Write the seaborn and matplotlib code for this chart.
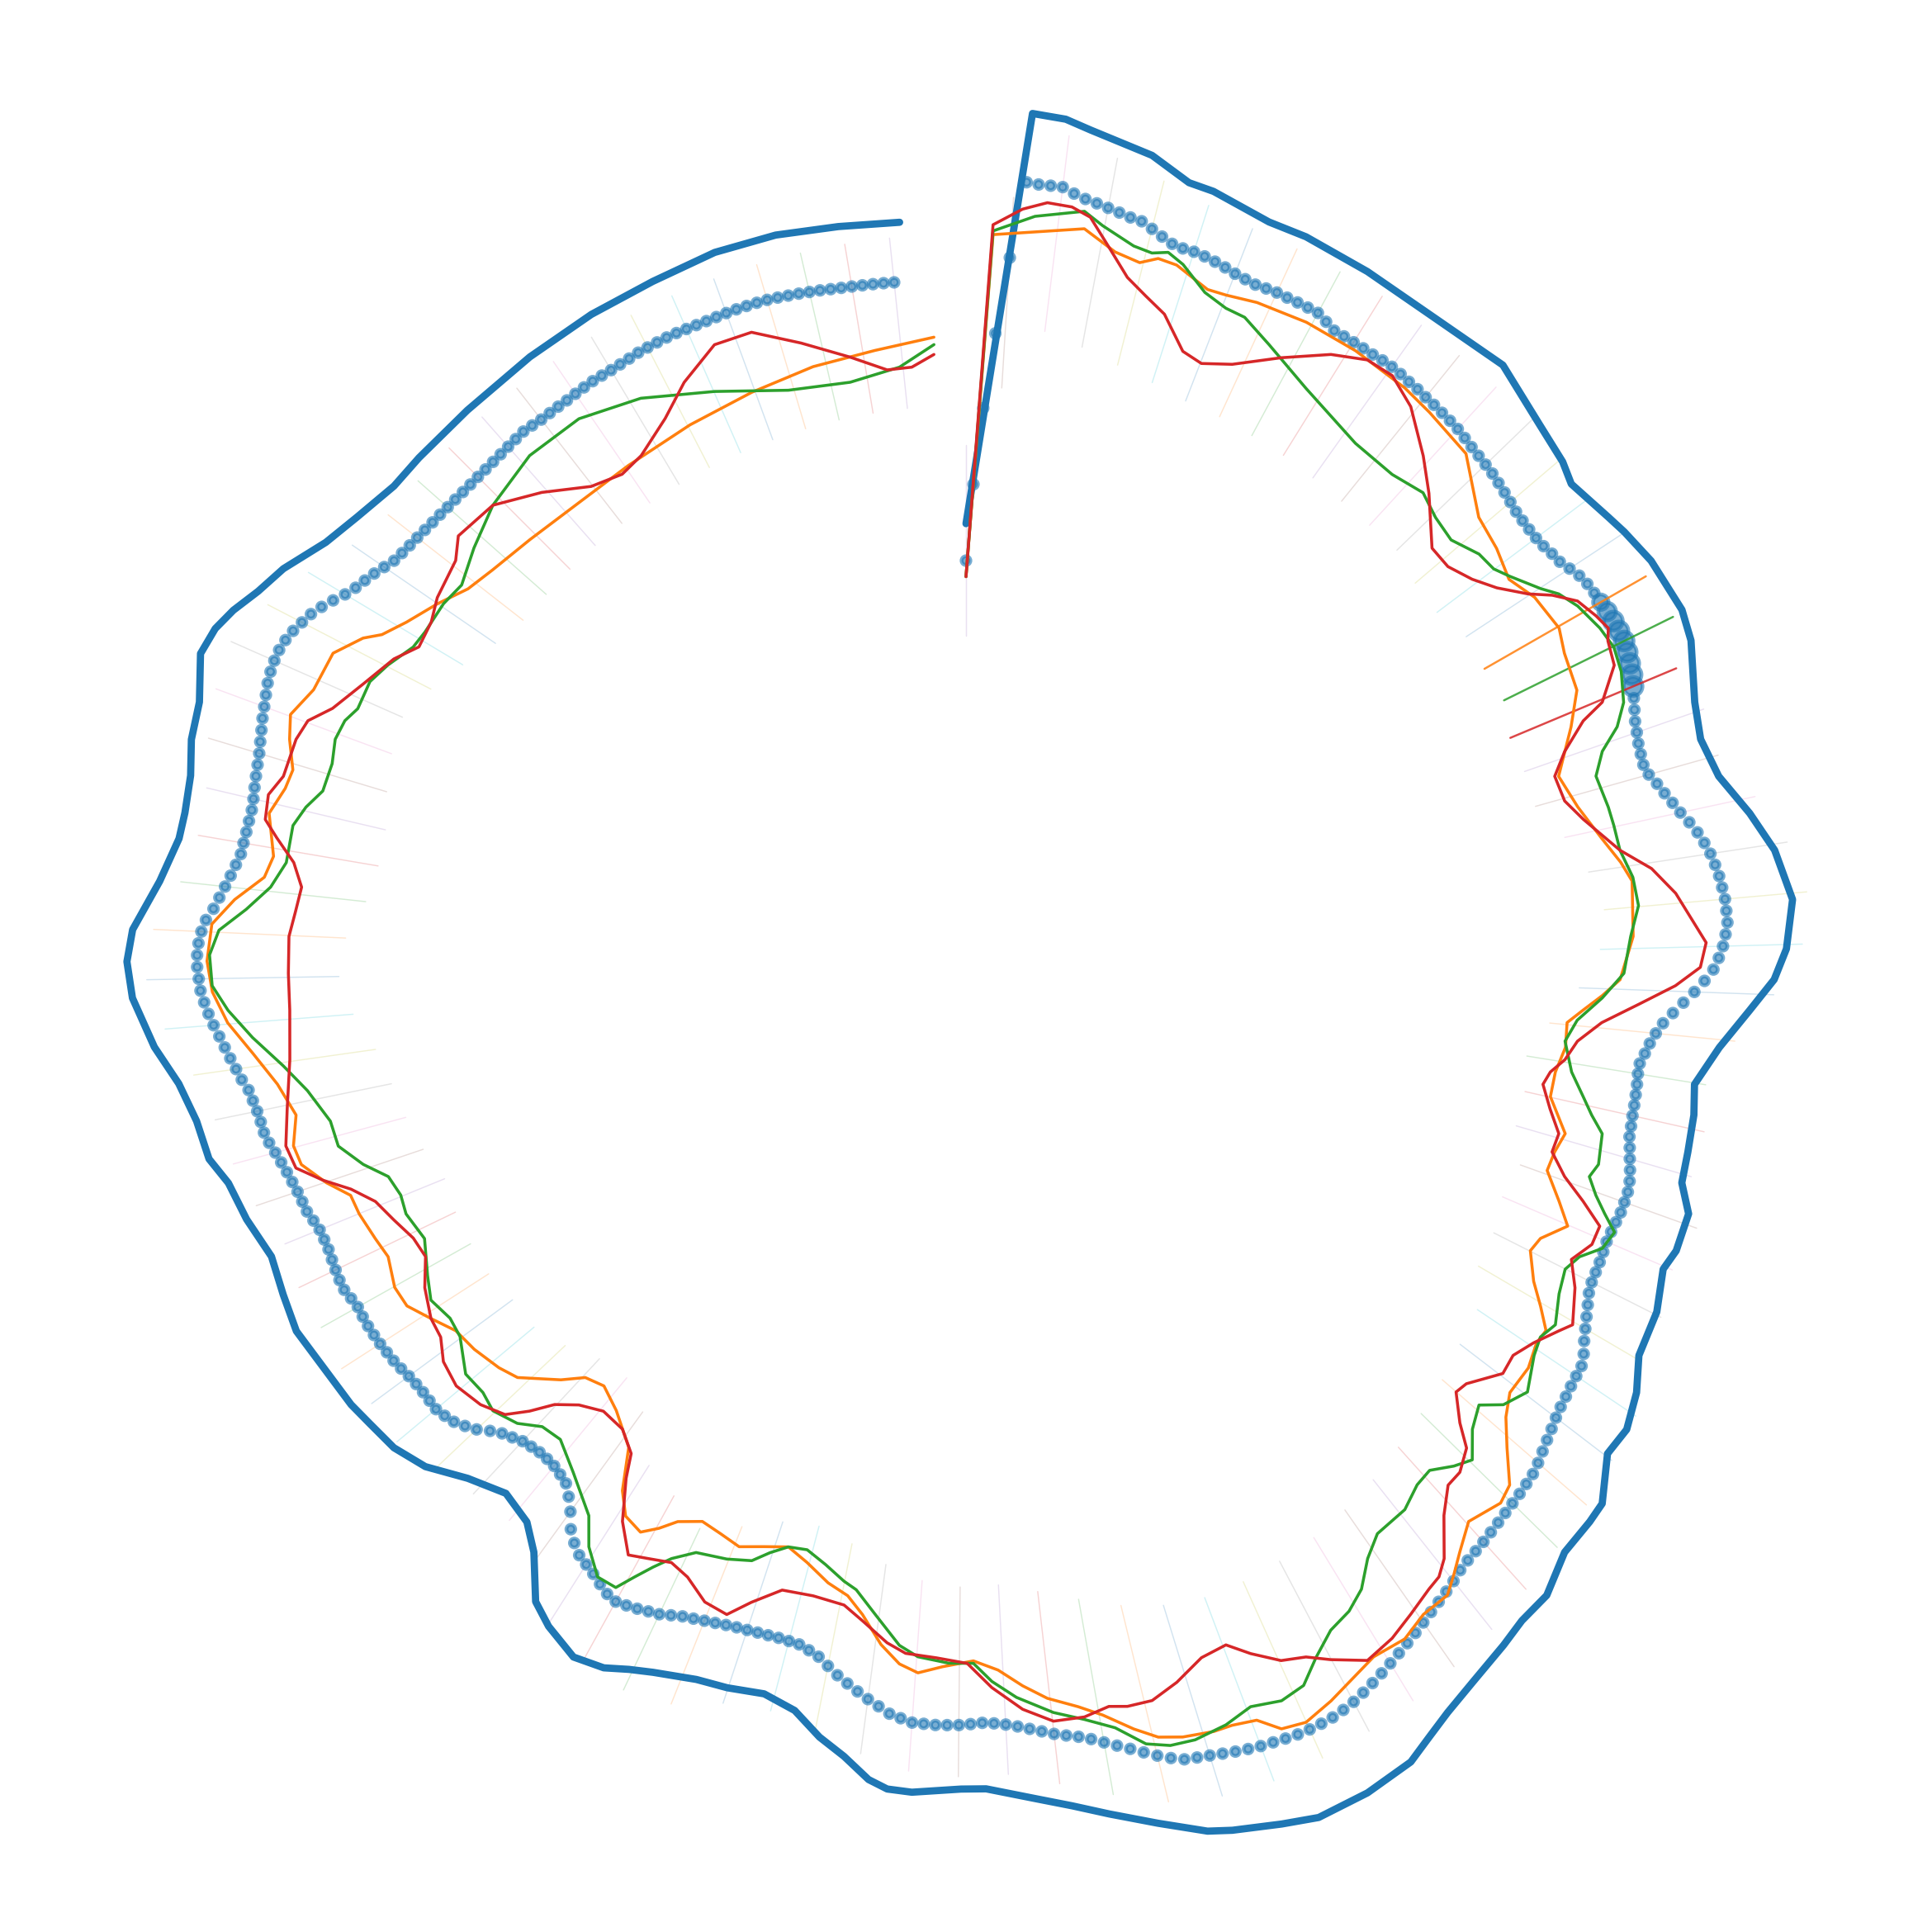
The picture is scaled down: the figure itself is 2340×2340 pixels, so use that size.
import numpy as np
import matplotlib
matplotlib.use("Agg")
import matplotlib.pyplot as plt
import seaborn as sns

# angles: degrees clockwise from north, radii in plot units (axis limit 784)

# thick outer trace
outer_theta = [0, 4.46, 6.72, 8.47, 12.93, 15.89, 17.72, 22.16, 25.0, 30.03,
               35.4, 41.78, 46.7, 49.8, 51.47, 55.06, 56.6, 59.4, 63.55, 65.82,
               70.1, 72.84, 75.85, 78.97, 81.85, 85.4, 88.8, 90.96, 93.24, 96.17,
               99.23, 101.57, 104.45, 106.85, 108.93, 111.85, 113.5, 116.6, 120.06, 122.46,
               125.05, 127.24, 130.2, 131.7, 134.4, 137.3, 139.66, 141.64, 144.72, 147.17,
               149.0, 150.8, 154.1, 157.5, 159.8, 162.87, 164.4, 167.37, 170.4, 172.8,
               175.26, 178.6, 180.34, 183.75, 185.47, 186.83, 188.78, 190.76, 192.96, 195.5,
               198.3, 200.7, 203.9, 205.6, 207.3, 209.6, 212.3, 214.1, 216.4, 218.3,
               221.1, 224.2, 227.2, 229.9, 232.5, 234.5, 236.8, 239.1, 241.4, 244.3,
               247.3, 250.6, 253.6, 255.7, 258.6, 261.5, 264.3, 267.8, 270.3, 272.5,
               276.0, 279.2, 281.1, 283.8, 286.3, 289.0, 292.2, 294.2, 295.9, 297.9,
               300.2, 303.5, 306.4, 310.0, 312.9, 318.1, 324.4, 330.1, 335.4, 340.6,
               345.4, 350.2, 354.9]
outer_r = [359, 694, 692, 686, 675, 661, 660, 652, 653, 651,
           649, 654, 640, 634, 628, 636, 640, 646, 649, 645,
           629, 624, 630, 648, 663, 673, 666, 656, 637, 615,
           599, 603, 605, 607, 620, 621, 617, 627, 631, 645,
           655, 654, 676, 678, 680, 695, 697, 703, 712, 721,
           730, 740, 746, 748, 742, 734, 729, 713, 698, 687,
           678, 668, 668, 672, 671, 665, 649, 637, 620, 613,
           617, 619, 627, 633, 641, 645, 634, 623, 591, 575,
           568, 580, 598, 607, 610, 613, 614, 616, 619, 615,
           611, 619, 624, 634, 637, 646, 662, 677, 681, 677,
           658, 647, 646, 648, 655, 658, 671, 668, 661, 650,
           641, 623, 614, 606, 606, 606, 608, 610, 611, 614,
           613, 609, 606]

orange_theta = [0, 2.12, 9.12, 11.8, 13.87, 15.2, 16.73, 19.65, 21.2, 23.68,
                27.87, 32.34, 37.2, 39.94, 44.3, 48.81, 51.8, 54.55, 57.04, 60.33,
                62.4, 65.7, 68.44, 72.25, 75.42, 78.6, 81.0, 82.73, 87.46, 91.19,
                92.66, 94.1, 95.38, 97.73, 100.2, 102.6, 105.63, 107.53, 109.38, 111.66,
                113.38, 115.37, 116.77, 119.05, 120.64, 122.15, 123.46, 125.56, 128.11, 129.88,
                131.69, 133.67, 135.13, 137.86, 139.89, 141.28, 142.58, 144.8, 146.9, 149.46,
                151.25, 153.59, 155.79, 157.53, 158.92, 160.68, 162.06, 164.3, 166.0, 167.6,
                169.65, 171.39, 173.66, 175.5, 177.39, 179.39, 181.91, 183.89, 185.45, 187.14,
                189.07, 190.64, 192.6, 194.92, 197.0, 199.2, 201.34, 203.35, 205.39, 207.42,
                208.64, 209.9, 211.75, 213.22, 215.02, 218.2, 220.77, 222.77, 224.39, 227.46,
                229.3, 232.06, 234.44, 236.62, 238.7, 240.64, 243.29, 245.23, 247.78, 249.56,
                251.27, 253.37, 255.03, 257.46, 260.26, 263.0, 265.6, 268.03, 270.37, 273.18,
                275.19, 277.21, 279.0, 282.36, 284.62, 286.24, 288.53, 290.42, 292.95, 296.3,
                298.54, 299.57, 301.57, 304.43, 307.14, 309.9, 314.34, 320.13, 325.98, 332.97,
                339.52, 345.69, 351.56, 357.08]
orange_r = [316, 594, 606, 592, 588, 595, 594, 583, 584, 588,
            591, 591, 589, 586, 581, 553, 548, 541, 550, 554,
            548, 544, 528, 505, 513, 526, 538, 545, 542, 531,
            517, 502, 490, 491, 486, 486, 505, 501, 500, 518,
            532, 516, 513, 527, 542, 556, 555, 561, 561, 571,
            588, 610, 615, 608, 622, 633, 643, 644, 652, 651,
            657, 666, 673, 670, 656, 653, 653, 650, 645, 634,
            618, 608, 598, 586, 572, 564, 569, 575, 569, 555,
            533, 520, 513, 501, 493, 499, 506, 502, 499, 508,
            520, 530, 525, 509, 477, 459, 450, 455, 470, 494,
            500, 506, 509, 520, 531, 532, 525, 528, 532, 533,
            548, 563, 565, 557, 567, 583, 601, 612, 616, 613,
            596, 574, 569, 579, 571, 569, 579, 585, 575, 573,
            557, 545, 533, 520, 507, 501, 495, 490, 490, 493,
            497, 502, 505, 511]

green_theta = [0, 2.11, 5.26, 8.92, 10.46, 13.11, 14.62, 15.82, 17.19, 19.53,
               21.56, 23.25, 26.02, 30.48, 36.69, 40.93, 44.0, 46.31, 48.71, 51.24,
               53.04, 54.38, 56.71, 57.88, 59.52, 61.94, 63.79, 65.81, 68.16, 69.83,
               71.36, 73.23, 76.11, 77.77, 79.96, 82.42, 84.87, 87.45, 90.64, 92.88,
               95.07, 97.15, 99.93, 101.95, 103.4, 104.77, 107.42, 108.67, 110.0, 111.2,
               112.32, 113.93, 115.36, 116.84, 118.94, 121.33, 122.86, 124.43, 127.19, 129.23,
               130.56, 132.45, 134.29, 135.71, 137.41, 138.99, 141.09, 144.07, 145.87, 147.6,
               149.31, 151.23, 153.15, 154.86, 156.76, 158.98, 161.09, 163.5, 165.31, 166.97,
               168.92, 171.07, 173.32, 176.05, 177.93, 179.39, 181.42, 183.98, 185.6, 188.01,
               189.98, 191.22, 193.2, 195.22, 197.0, 198.47, 199.81, 201.97, 204.71, 206.42,
               207.5, 208.47, 209.4, 211.09, 213.0, 214.46, 217.82, 220.59, 222.61, 224.45,
               226.77, 228.56, 230.8, 233.78, 235.68, 238.02, 240.12, 243.28, 246.12, 247.94,
               249.97, 251.78, 253.99, 256.28, 259.29, 261.68, 264.28, 266.56, 268.5, 270.84,
               272.74, 274.5, 276.47, 278.65, 281.79, 283.53, 285.22, 287.7, 289.77, 291.55,
               292.93, 295.51, 297.49, 299.98, 301.69, 304.74, 307.07, 310.35, 314.24, 319.47,
               324.73, 330.2, 336.36, 342.86, 348.78, 353.66, 357.05]
green_r = [316, 597, 611, 620, 611, 600, 598, 602, 596, 580,
           574, 573, 561, 544, 529, 528, 534, 527, 524, 534,
           536, 543, 558, 568, 576, 583, 586, 583, 575, 563,
           545, 534, 537, 538, 539, 546, 548, 540, 534, 517,
           498, 490, 499, 512, 522, 534, 538, 534, 544, 556,
           569, 565, 551, 545, 550, 560, 555, 559, 572, 563,
           548, 557, 574, 567, 556, 558, 567, 569, 581, 599,
           609, 615, 629, 645, 649, 644, 651, 655, 654, 648,
           630, 619, 610, 595, 581, 566, 566, 562, 554, 531,
           514, 509, 499, 491, 493, 502, 513, 519, 524, 537,
           550, 564, 579, 579, 562, 541, 520, 506, 508, 520,
           527, 523, 524, 509, 507, 512, 504, 492, 497, 495,
           499, 515, 530, 531, 544, 560, 582, 600, 612, 614,
           607, 586, 568, 558, 558, 551, 541, 540, 544, 542,
           536, 536, 529, 518, 516, 516, 513, 524, 536, 545,
           544, 531, 509, 489, 483, 489, 505]

red_theta = [0, 2.09, 4.28, 6.09, 7.95, 9.43, 11.23, 13.19, 15.02, 16.93,
             19.43, 21.34, 23.87, 27.39, 30.83, 33.52, 35.84, 38.49, 41.87, 44.4,
             48.12, 50.35, 52.62, 54.54, 56.49, 57.69, 59.17, 60.94, 62.26, 63.13,
             65.11, 67.48, 68.34, 70.3, 72.14, 74.59, 76.64, 79.96, 81.91, 84.15,
             88.19, 90.1, 91.59, 93.25, 95.09, 97.01, 98.89, 100.28, 101.59, 103.75,
             105.79, 107.6, 109.38, 110.87, 112.32, 113.98, 115.86, 117.85, 120.6, 121.61,
             123.57, 125.44, 127.2, 129.86, 131.0, 132.77, 133.92, 135.71, 137.12, 138.98,
             141.1, 142.25, 143.39, 145.54, 147.63, 149.97, 152.27, 153.8, 155.6, 157.51,
             159.05, 161.2, 163.6, 165.78, 167.7, 169.08, 171.04, 173.39, 175.64, 177.95,
             179.9, 182.45, 185.02, 186.65, 188.99, 190.8, 193.64, 196.41, 198.64, 200.25,
             202.33, 204.5, 206.28, 208.3, 209.83, 211.74, 213.56, 214.48, 216.57, 219.16,
             221.41, 223.17, 224.44, 225.78, 227.9, 230.52, 232.87, 234.76, 236.62, 239.27,
             241.74, 243.79, 246.06, 248.26, 250.06, 251.57, 253.22, 255.18, 258.11, 262.12,
             266.25, 269.37, 272.5, 274.62, 276.77, 278.75, 280.54, 281.81, 283.8, 285.53,
             288.69, 290.44, 292.13, 295.1, 298.22, 300.26, 302.74, 304.87, 308.47, 310.27,
             314.24, 318.15, 321.99, 325.04, 327.53, 331.21, 334.22, 337.96, 341.3, 345.17,
             349.23, 352.47, 354.83, 357.0]
red_r = [316, 602, 616, 623, 622, 616, 595, 574, 563, 553,
         529, 525, 534, 556, 578, 590, 591, 580, 556, 537,
         508, 508, 517, 529, 547, 563, 578, 585, 589, 584,
         580, 559, 539, 516, 502, 504, 515, 539, 562, 579,
         601, 596, 576, 547, 518, 500, 492, 482, 478, 488,
         500, 499, 515, 536, 556, 556, 546, 559, 572, 565,
         553, 545, 547, 529, 527, 546, 564, 574, 575, 591,
         618, 627, 630, 638, 646, 651, 636, 625, 619, 604,
         590, 593, 606, 615, 615, 612, 617, 617, 605, 586,
         566, 562, 560, 553, 538, 528, 526, 528, 545, 561,
         558, 545, 540, 546, 551, 530, 499, 480, 468, 466,
         475, 488, 506, 522, 531, 536, 532, 522, 520, 511,
         498, 500, 508, 516, 531, 550, 568, 571, 563, 554,
         550, 550, 550, 546, 543, 552, 569, 581, 583, 575,
         574, 570, 555, 540, 527, 514, 516, 523, 529, 540,
         536, 516, 494, 487, 491, 507, 526, 544, 543, 523,
         503, 488, 488, 497]

# beaded trace: one dot per sample, samples 0.885 degrees apart
dot_step = 0.885
dot_r = [329, 391, 453, 514, 576, 638, 637, 637, 637, 633,
         630, 628, 626, 624, 622, 621, 617, 613, 609.5, 608.4,
         608.5, 607.6, 606.3, 604.7, 602.8, 601.7, 600.8, 601.4, 602, 601.8,
         602, 602.1, 602.1, 599, 596, 596, 596, 596, 596, 596.5,
         596.6, 596, 595, 594.5, 593.5, 593, 592.3, 591.7, 591, 589.5,
         588, 587, 586, 585, 583.5, 582, 580.5, 579, 578.5, 578.3,
         578.5, 579.5, 581.5, 583, 586.5, 590, 592, 593, 593.8, 594.6,
         595.3, 595.6, 595.7, 594, 592, 590, 587, 584, 581, 578.2,
         576.5, 574.8, 574, 573.5, 575.5, 580, 584, 588.5, 593, 598.5,
         603.5, 607.5, 611, 613.5, 615.6, 617, 618.4, 618.7, 619, 617,
         614.6, 611, 606.6, 599.5, 591.5, 583, 575, 567.6, 562.5, 558.5,
         555.5, 552.5, 552.3, 553, 553.5, 554, 554.4, 555.2, 556, 558.5,
         561, 563.8, 566.2, 567.6, 567.7, 567.8, 567, 566.3, 566, 566.9,
         567.7, 568.3, 569, 571, 574.7, 578.5, 582.5, 586.8, 592, 595.8,
         596.7, 597.8, 599.3, 600.8, 603, 605.8, 608.6, 611.7, 615, 617.8,
         619.3, 620.8, 622, 623.4, 625, 626.6, 628.3, 629.8, 631.3, 633.5,
         637, 640.1, 643, 646, 649.3, 652.7, 656, 659.2, 662.5, 665.8,
         669, 672.1, 675, 677, 678.6, 679.2, 679.5, 679.3, 678.5, 677.6,
         676.8, 675.5, 674, 672.3, 670.6, 669.2, 667.8, 664, 659.4, 654.3,
         649.2, 644.5, 640, 635.6, 632.2, 629.8, 627.3, 624.2, 621.3, 618.6,
         616.5, 615.1, 614.4, 615.3, 616.1, 616.3, 616.5, 616, 615.6, 612.8,
         610, 605, 600.3, 595.3, 590.2, 585, 579, 573.2, 569.8, 567,
         566.4, 566.1, 566.4, 566.8, 567.4, 568.1, 569.2, 570.7, 572.2, 574,
         575.8, 578.8, 582, 583.8, 585.9, 587.6, 589, 587, 583, 578.7,
         575.3, 572, 566, 558.4, 547, 538, 530.8, 528, 525.7, 525,
         524.9, 526, 527.5, 531, 534.5, 540, 547, 552, 556.4, 558.8,
         560.7, 560.4, 560.2, 560.6, 561.5, 563, 564.3, 565, 565.8, 566.2,
         566.5, 566.3, 565.9, 567.3, 569, 568.8, 568, 567.1, 566.2, 566.2,
         566.6, 568.5, 570.8, 571.6, 572.6, 574.2, 576, 578.2, 580.7, 583.5,
         585.6, 586.2, 587.2, 589, 590.9, 595, 598.3, 601.8, 605.2, 608.7,
         612.5, 616, 619, 621.6, 622.8, 624, 624.1, 623.2, 621.2, 618,
         612.5, 608.5, 604.8, 601.3, 598.2, 595.5, 594.8, 594.1, 593.7, 593.3,
         594, 595.3, 596.5, 597.7, 599, 601, 603, 605.3, 607.2, 609.3,
         611.5, 612.9, 613.6, 613.6, 612.4, 610.1, 606.8, 603.5, 598.7, 593.2,
         587.3, 582.8, 579.6, 576.3, 572.5, 568.9, 567.3, 566, 565, 564,
         563.1, 562.5, 561.8, 561.4, 561, 560.8, 560.8, 560.8, 561, 561.4,
         561.9, 562.5, 563.2, 562.5, 561.7, 561.7, 561.8, 561.8, 562.3, 562.7,
         563.1, 563, 562.9, 563.2, 563.7, 564.4, 564.6, 564.8, 565, 564.9,
         564.6, 564.3, 564.2, 564.3, 564.5, 564.6, 564.5, 564.4, 564.2, 563.6,
         562.9, 562.3, 561.6, 561, 560.2, 559.6, 559.2, 558.8, 558.5, 558.2,
         557.9]
big_dots = [68, 69, 70, 71, 72, 73, 74, 75, 76]

# radial spokes, one every 4th sample
seg_lo = [268, 470, 519, 511, 503, 497, 492, 491, 489, 488,
          486, 485, 485, 486, 479, 478, 486, 485, 487, 479,
          480, 480, 497, 511, 520, 515, 498, 476, 461, 465,
          465, 478, 474, 480, 482, 500, 505, 512, 518, 525,
          532, 538, 543, 546, 548, 548, 543, 534, 522, 511,
          503, 504, 500, 490, 478, 470, 475, 490, 505, 491,
          480, 447, 433, 436, 448, 457, 457, 461, 461, 460,
          457, 465, 471, 476, 484, 499, 509, 504, 490, 484,
          484, 491, 497, 500, 489, 476, 463, 456, 455, 455,
          455, 455, 455, 455, 455, 455, 455, 455, 455, 455, 455]
seg_hi = [423, 625, 679, 667, 657, 648, 642, 641, 640, 640,
          638, 637, 637, 639, 631, 630, 639, 636, 640, 625,
          634, 634, 655, 674, 685, 679, 656, 627, 608, 614,
          613, 630, 624, 632, 635, 655, 660, 667, 673, 680,
          687, 693, 698, 702, 705, 707, 705, 698, 683, 668,
          657, 658, 655, 645, 633, 625, 630, 645, 650, 646,
          632, 595, 583, 586, 594, 602, 599, 603, 600, 601,
          597, 608, 616, 622, 633, 652, 665, 660, 641, 632,
          633, 642, 649, 652, 638, 622, 604, 595, 594, 594,
          594, 594, 594, 594, 594, 594, 594, 594, 594, 594, 594]
highlight_segments = [17, 18, 19]

sns.set_theme(style="white")
pal = sns.color_palette("tab10")

fig = plt.figure(figsize=(7.8, 7.8), dpi=300)
ax = fig.add_axes([0, 0, 1, 1], projection="polar")
ax.set_theta_zero_location("N")
ax.set_theta_direction(-1)

dot_theta = np.deg2rad(np.arange(len(dot_r)) * dot_step)
seg_theta = dot_theta[::4]

# spokes
for k, (t, lo, hi) in enumerate(zip(seg_theta, seg_lo, seg_hi)):
    hot = k in highlight_segments
    ax.plot([t, t], [lo, hi], color=pal[(k + 4) % 10],
            lw=0.6 if hot else 0.35, alpha=0.85 if hot else 0.2,
            zorder=4 if hot else 1)

# outer thick trace
sns.lineplot(x=np.deg2rad(outer_theta), y=outer_r, sort=False, estimator=None,
             color=pal[0], linewidth=2.1, ax=ax, zorder=2)

# beaded dots
sizes = np.full(len(dot_r), 6.5)
sizes[big_dots] = [20, 26, 30, 30, 30, 30, 30, 30, 30]
sns.scatterplot(x=dot_theta, y=dot_r, s=sizes, color=pal[0], alpha=0.6,
                edgecolor=pal[0], linewidth=1.1, ax=ax, zorder=3, legend=False)

# three thin traces
for th, rr, c in [(orange_theta, orange_r, pal[1]),
                  (green_theta, green_r, pal[2]),
                  (red_theta, red_r, pal[3])]:
    sns.lineplot(x=np.deg2rad(th), y=rr, sort=False, estimator=None,
                 color=c, linewidth=0.85, ax=ax, zorder=5)

ax.set_ylim(0, 784)
ax.set_axis_off()

fig.savefig("out.png", dpi=300, facecolor="white")
